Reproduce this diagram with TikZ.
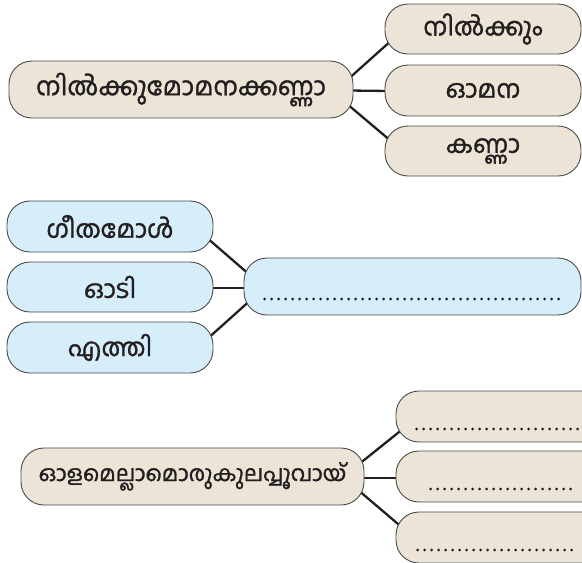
\documentclass[tikz,border=0pt]{standalone}
\usepackage{fontspec}
\newfontfamily\ml[Script=Malayalam,FakeBold=1.3]{Hind Kochi}
\usetikzlibrary{calc,backgrounds}
\definecolor{beige}{HTML}{ECE5D7}
\definecolor{skyb}{HTML}{D6EDFA}
\definecolor{edge}{HTML}{4A4A4A}
\definecolor{ink}{HTML}{231F20}
\tikzset{
  pill/.style={draw=edge, line width=0.9pt, rounded corners=23pt, inner sep=0pt, font=\ml\fontsize{25}{28}\selectfont, text=ink},
  tan/.style={pill, fill=beige},
  blu/.style={pill, fill=skyb},
  link/.style={draw=ink, line width=2.3pt},
  blank/.style={draw=ink, line width=3pt, line cap=round, dash pattern=on 0pt off 7pt}
}
\begin{document}
\begin{tikzpicture}[x=1pt,y=-1pt]
\useasboundingbox (0,0) rectangle (582,563);
\clip (0,0) rectangle (582,563);
% top group
\node[tan, minimum width=344pt, minimum height=57pt, font=\ml\fontsize{25.5}{28}\selectfont] (m1) at (181,89.5) {നിൽക്കുമോമനക്കണ്ണാ};
\node[tan, minimum width=196pt, minimum height=50pt] (a1) at (483,29) {നിൽക്കും};
\node[tan, minimum width=196pt, minimum height=51pt] (a2) at (483,90.5) {ഓമന};
\node[tan, minimum width=196pt, minimum height=50pt] (a3) at (483,151) {കണ്ണാ};
% middle group
\node[blu, minimum width=206pt, minimum height=51pt] (b1) at (110,226.5) {ഗീതമോൾ};
\node[blu, minimum width=206pt, minimum height=50pt] (b2) at (110,287) {ഓടി};
\node[blu, minimum width=206pt, minimum height=51pt] (b3) at (110,347.5) {എത്തി};
\node[blu, minimum width=337pt, minimum height=57pt] (bm) at (412.5,286.5) {};
% bottom group
\node[tan, minimum width=343pt, minimum height=57pt, font=\ml\fontsize{22}{26}\selectfont] (m3) at (192.5,476.5) {ഓളമെല്ലാമൊരുകുലപ്പൂവായ്};
\node[tan, minimum width=220pt, minimum height=51pt] (c1) at (506,416.5) {};
\node[tan, minimum width=220pt, minimum height=51pt] (c2) at (506,476.5) {};
\node[tan, minimum width=220pt, minimum height=51pt] (c3) at (506,537.5) {};
% blanks
\coordinate (d0a) at ($(bm.west)+(21,12.5)$);
\coordinate (d0b) at ($(bm.west)+(320,12.5)$);
\draw[blank] (d0a) -- (d0b);
\coordinate (d1a) at ($(c1.west)+(21,12.5)$);
\coordinate (d1b) at ($(c1.west)+(200,12.5)$);
\draw[blank] (d1a) -- (d1b);
\coordinate (d2a) at ($(c2.west)+(35,12.5)$);
\coordinate (d2b) at ($(c2.west)+(180,12.5)$);
\draw[blank] (d2a) -- (d2b);
\coordinate (d3a) at ($(c3.west)+(22,12.5)$);
\coordinate (d3b) at ($(c3.west)+(179,12.5)$);
\draw[blank] (d3a) -- (d3b);
% connectors
\begin{scope}[on background layer]
\draw[link] ($(m1.east)+(-4,-11.5)$) -- ($(a1.west)+(4,14)$);
\draw[link] ($(m1.east)+(-4,1)$) -- ($(a2.west)+(4,0.5)$);
\draw[link] ($(m1.east)+(-4,16.5)$) -- ($(a3.west)+(4,-12)$);
\draw[link] ($(b1.east)+(-4,13.5)$) -- ($(bm.west)+(4,-13.5)$);
\draw[link] ($(b2.east)+(-4,1)$) -- ($(bm.west)+(4,1.5)$);
\draw[link] ($(b3.east)+(-4,-10.5)$) -- ($(bm.west)+(6,14.5)$);
\draw[link] ($(m3.east)+(-4,-13.5)$) -- ($(c1.west)+(6,13.5)$);
\draw[link] ($(m3.east)+(-4,1.5)$) -- ($(c2.west)+(4,1.5)$);
\draw[link] ($(m3.east)+(-4,15.5)$) -- ($(c3.west)+(6,-10.5)$);
\end{scope}
\end{tikzpicture}
\end{document}
